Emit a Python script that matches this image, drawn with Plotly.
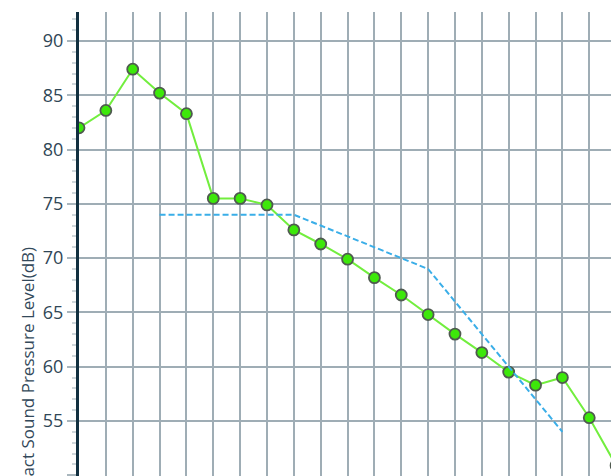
import plotly.graph_objects as go

# 1/3-octave band centre frequencies (Hz)
frequencies = ["50", "63", "80", "100", "125", "160", "200", "250", "315", "400",
               "500", "630", "800", "1000", "1250", "1600", "2000", "2500", "3150",
               "4000", "5000"]

# Measured impact sound pressure level (dB)
measured_db = [82.0, 83.6, 87.4, 85.2, 83.3, 75.5, 75.5, 74.9, 72.6, 71.3,
               69.9, 68.2, 66.6, 64.8, 63.0, 61.3, 59.5, 58.3, 59.0, 55.3, 50.9]

# Shifted reference curve (dB), 100 Hz - 3150 Hz
reference_db = [None, None, None, 74, 74, 74, 74, 74, 74, 73,
                72, 71, 70, 69, 66, 63, 60, 57, 54, None, None]

y_ticks = [50, 55, 60, 65, 70, 75, 80, 85, 90]

fig = go.Figure()

fig.add_trace(go.Scatter(
    x=frequencies, y=measured_db, mode="lines+markers",
    line=dict(color="#72ee3e", width=2),
    marker=dict(size=11, color="#3de80a", line=dict(color="#4f5a4f", width=1.8)),
    name="Measured", cliponaxis=True,
))

fig.add_trace(go.Scatter(
    x=frequencies, y=reference_db, mode="lines",
    line=dict(color="#3aaee8", width=2, dash="6px,3px"),
    name="Reference", connectgaps=False,
))

fig.update_layout(
    width=611, height=476,
    margin=dict(l=79, r=0, t=12, b=0, pad=0),
    paper_bgcolor="white", plot_bgcolor="white",
    showlegend=False,
    font=dict(family="Open Sans", color="#33495a"),
)

fig.update_xaxes(
    type="category", range=[0, 19.81],
    showgrid=True, gridcolor="#9fadb5", gridwidth=2,
    showline=False, zeroline=False, showticklabels=False, ticks="",
    automargin=False,
)

fig.update_yaxes(
    range=[49.93, 92.67],
    tickvals=y_ticks, ticktext=[str(v) for v in y_ticks],
    tickfont=dict(size=18, color="#2f4656", family="Open Sans"),
    showgrid=True, gridcolor="#9fadb5", gridwidth=2,
    showline=True, linecolor="#123040", linewidth=3,
    zeroline=False,
    ticks="outside", ticklen=9, tickwidth=1.5, tickcolor="#a9b6bd",
    minor=dict(tick0=50, dtick=1, ticks="outside", ticklen=4, tickwidth=1.5,
               tickcolor="#cfd7db", showgrid=False),
    automargin=False,
)

fig.add_annotation(
    text="Impact Sound Pressure Level(dB)",
    xref="paper", yref="paper",
    x=(27 - 79) / 532, y=(476 - 245) / 464,
    xanchor="center", yanchor="top",
    textangle=-90, showarrow=False,
    font=dict(size=17, color="#33495a", family="Open Sans"),
)

fig.write_html("out.html", config={"displayModeBar": False},
               post_script="document.body.style.margin='0';")
